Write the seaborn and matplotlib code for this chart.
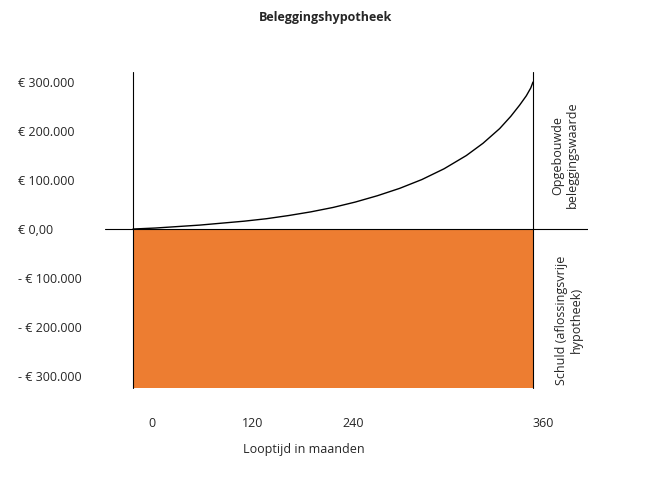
import matplotlib
matplotlib.use("Agg")
import matplotlib.pyplot as plt
import seaborn as sns
import pandas as pd

sns.set_theme(style="white")
plt.rcParams['font.family'] = ['Open Sans', 'DejaVu Sans']

months = [0, 20, 40, 60, 80, 100, 120, 140, 160, 180, 200, 220, 240, 260, 280, 300, 315, 330, 340, 348, 354, 358, 360]
value = [0, 2000, 5000, 8000, 12000, 16000, 21000, 27500, 35000, 44000, 55000, 68000, 83000, 101000, 123000, 150000, 175000, 205000, 230000, 253000, 272000, 288000, 300000]
debt = -325000
yticks = [300000, 200000, 100000, 0, -100000, -200000, -300000]
ylabels = ["€ 300.000", "€ 200.000", "€ 100.000", "€ 0,00", "- € 100.000", "- € 200.000", "- € 300.000"]
xtick_pos = [17, 108, 198, 369]
xtick_labels = ["0", "120", "240", "360"]

fig = plt.figure(figsize=(6.59, 4.79), dpi=100)
ax = fig.add_axes([105/659, 79/479, 483/659, 340/479])
ax.set_xlim(-25.2, 409.5)
ax.set_ylim(-349000, 345000)

ax.fill_between([0, 360], debt, 0, color="#ED7D31", linewidth=0)
sns.lineplot(x=months, y=value, ax=ax, color="black", linewidth=1)
ax.axhline(0, color="black", linewidth=0.8)
ax.plot([0, 0], [debt, 320000], color="black", linewidth=0.8)
ax.plot([360, 360], [debt, 320000], color="black", linewidth=0.8)

for s in ax.spines.values():
    s.set_visible(False)
ax.set_yticks(yticks)
ax.set_yticklabels(ylabels, ha="left", fontsize=9)
ax.tick_params(axis="y", pad=63, length=0)
ax.set_xticks(xtick_pos)
ax.set_xticklabels(xtick_labels, fontsize=9)
ax.tick_params(axis="x", pad=12, length=0)

fig.text(326/659, 1 - 18/479, "Beleggingshypotheek", ha="center", va="center", fontsize=9, fontweight="bold")
fig.text(304/659, 1 - 450/479, "Looptijd in maanden", ha="center", va="center", fontsize=9)
fig.text(565/659, 1 - 155/479, "Opgebouwde\nbeleggingswaarde", ha="center", va="center", rotation=90, fontsize=9)
fig.text(569/659, 1 - 320/479, "Schuld (aflossingsvrije\nhypotheek)", ha="center", va="center", rotation=90, fontsize=9)

fig.savefig("out.png", dpi=100)
